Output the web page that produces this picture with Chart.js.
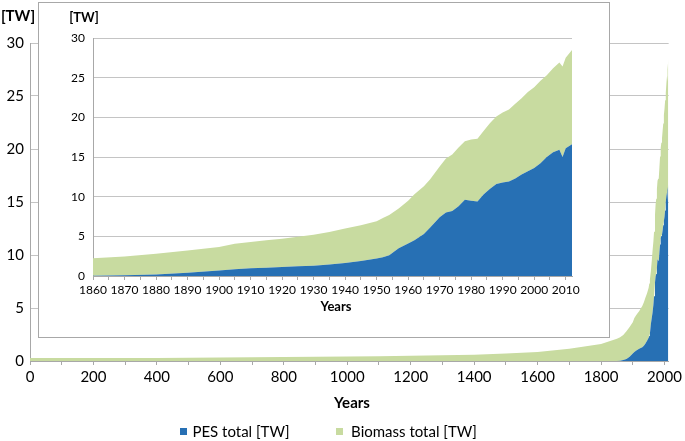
<!DOCTYPE html>
<html>
<head>
<meta charset="utf-8">
<script src="https://cdn.jsdelivr.net/npm/chart.js@4"></script>
<style>
  html, body { margin: 0; padding: 0; background: #fff; }
  body { width: 685px; height: 441px; position: relative; overflow: hidden;
         font-family: Lato, "Open Sans", sans-serif; color: #000; }
  #main { position: absolute; left: 0; top: 0; }
  #insetBox { position: absolute; left: 38px; top: 2px; width: 572px; height: 336px;
              box-sizing: border-box; border: 1px solid #a8a8a8; background: #fff; }
  #inset { position: absolute; left: 0; top: 0; }
  .lbl { position: absolute; transform: translate(-50%, -50%); white-space: nowrap; }
  .bold { font-weight: bold; }
  .sw { position: absolute; width: 7px; height: 7px; }
</style>
</head>
<body>
<canvas id="main" width="685" height="441"></canvas>
<div id="insetBox"><canvas id="inset" width="570" height="334"></canvas></div>

<div class="lbl bold" style="left:18px;top:15px;font-size:15px;">[TW]</div>
<div class="lbl bold" style="left:84px;top:17px;font-size:13px;">[TW]</div>
<div class="lbl bold" style="left:336px;top:306px;font-size:13px;">Years</div>
<div class="lbl bold" style="left:352px;top:402px;font-size:15px;">Years</div>

<div class="sw" style="left:180px;top:428px;background:#2770b4;"></div>
<div class="lbl" style="left:241px;top:431px;font-size:15px;">PES total [TW]</div>
<div class="sw" style="left:336px;top:428px;background:#c8dba0;"></div>
<div class="lbl" style="left:414px;top:431px;font-size:15px;">Biomass total [TW]</div>

<script>
// ===============================
// DATA
// ===============================
const years = [
  0, 100, 200, 300, 400, 500, 600, 700, 800, 900,
  1000, 1100, 1200, 1300, 1400, 1500, 1600, 1700, 1800, 1850,
  1860, 1870, 1880, 1890, 1900, 1905, 1910, 1915, 1920, 1925,
  1930, 1935, 1940, 1945, 1950, 1952, 1954, 1957, 1960, 1962,
  1965, 1967, 1970, 1972, 1974, 1976, 1978, 1980, 1982, 1984,
  1986, 1988, 1990, 1992, 1994, 1996, 1998, 2000, 2002, 2004,
  2006, 2008, 2009, 2010, 2012
];

const pesTW = [
  0, 0, 0, 0, 0, 0, 0, 0, 0, 0,
  0, 0, 0, 0, 0, 0, 0, 0, 0, 0,
  0.02, 0.1, 0.2, 0.4, 0.7, 0.85, 0.97, 1.05, 1.15, 1.22,
  1.3, 1.45, 1.65, 1.9, 2.2, 2.35, 2.6, 3.5, 4.1, 4.5,
  5.3, 6.1, 7.4, 8.0, 8.2, 8.8, 9.6, 9.5, 9.4, 10.3,
  11.0, 11.6, 11.8, 11.9, 12.3, 12.8, 13.2, 13.6, 14.2, 15.0,
  15.6, 15.9, 15.0, 16.1, 16.6
];

const biomassTW = [
  0.28, 0.28, 0.28, 0.28, 0.28, 0.30, 0.33, 0.35, 0.38, 0.40,
  0.42, 0.44, 0.50, 0.54, 0.60, 0.70, 0.85, 1.15, 1.60, 2.10,
  2.22, 2.35, 2.6, 2.8, 2.95, 3.2, 3.33, 3.45, 3.55, 3.73,
  3.9, 4.1, 4.35, 4.5, 4.7, 4.95, 5.1, 5.0, 5.4, 5.8,
  6.0, 6.1, 6.4, 6.8, 7.1, 7.4, 7.4, 7.7, 7.9, 8.0,
  8.3, 8.5, 8.8, 9.1, 9.4, 9.6, 10.0, 10.2, 10.4, 10.3,
  10.6, 11.0, 11.4, 11.4, 11.9
];

const seriesNames = ["PES total [TW]", "Biomass total [TW]"];
const seriesColors = ["#2770b4", "#c8dba0"];

const GRID = "#c4c4c4";
const AXIS = "#a8a8a8";
const FONT = "Lato, 'Open Sans', sans-serif";

// ===============================
// HELPERS
// ===============================
function points(values, fromYear) {
  return years
    .map((y, i) => ({ x: y, y: values[i] }))
    .filter(p => p.x >= fromYear);
}

function datasets(fromYear) {
  return [pesTW, biomassTW].map((vals, i) => ({
    label: seriesNames[i],
    data: points(vals, fromYear),
    backgroundColor: seriesColors[i],
    borderColor: seriesColors[i],
    borderWidth: 0,
    pointRadius: 0,
    tension: 0,
    fill: i === 0 ? "origin" : "-1"
  }));
}

function makeChart(id, cfg) {
  return new Chart(document.getElementById(id), {
    type: "line",
    data: { datasets: datasets(cfg.fromYear) },
    options: {
      responsive: false,
      animation: false,
      layout: { padding: cfg.padding },
      plugins: { legend: { display: false }, tooltip: { enabled: false } },
      scales: {
        x: {
          type: "linear",
          min: cfg.xMin,
          max: cfg.xMax,
          afterFit: s => { s.height = 30; },
          border: { display: true, color: AXIS },
          grid: { drawOnChartArea: false, drawTicks: true, tickLength: 4, color: AXIS },
          ticks: {
            stepSize: cfg.xStep,
            includeBounds: false,
            autoSkip: false,
            maxRotation: 0,
            padding: 3,
            color: "#000",
            font: { family: FONT, size: cfg.fontSize },
            callback: v => (v % cfg.xLabelEvery === 0 ? String(v) : "")
          }
        },
        y: {
          stacked: true,
          min: 0,
          max: 30,
          afterFit: s => { s.width = cfg.yWidth; },
          border: { display: true, color: AXIS },
          grid: { color: GRID, drawTicks: false },
          ticks: {
            stepSize: 5,
            padding: cfg.yPad,
            color: "#000",
            font: { family: FONT, size: cfg.fontSize }
          }
        }
      }
    }
  });
}

// ===============================
// CHARTS
// ===============================
makeChart("main", {
  fromYear: 0, xMin: 0, xMax: 2013, xStep: 100, xLabelEvery: 200,
  padding: { left: 0, right: 14, top: 43, bottom: 50 },
  yWidth: 30, yPad: 6, fontSize: 15
});

makeChart("inset", {
  fromYear: 1860, xMin: 1860, xMax: 2012, xStep: 5, xLabelEvery: 10,
  padding: { left: 0, right: 37, top: 35, bottom: 31 },
  yWidth: 54, yPad: 8, fontSize: 12
});
</script>
</body>
</html>
